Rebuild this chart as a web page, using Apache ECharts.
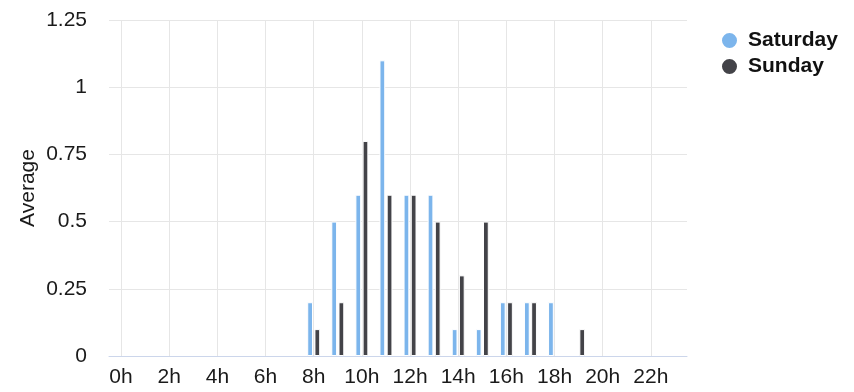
<!DOCTYPE html>
<html><head><meta charset="utf-8">
<script src="https://cdn.jsdelivr.net/npm/echarts@6/dist/echarts.min.js"></script>
<style>html,body{margin:0;padding:0;background:#fff}#c{width:854px;height:392px}</style>
</head><body><div id="c"></div>
<script>
const hours = ['0h','1h','2h','3h','4h','5h','6h','7h','8h','9h','10h','11h','12h','13h','14h','15h','16h','17h','18h','19h','20h','21h','22h','23h'];
const saturday = [0,0,0,0,0,0,0,0,0.2,0.5,0.6,1.1,0.6,0.6,0.1,0.1,0.2,0.2,0.2,0,0,0,0,0];
const sunday   = [0,0,0,0,0,0,0,0,0.1,0.2,0.8,0.6,0.6,0.5,0.3,0.5,0.2,0.2,0,0.1,0,0,0,0];
const yTicks = {min: 0, max: 1.25, interval: 0.25};

const FONT = "'Liberation Sans', Arial, sans-serif";
function prep(arr){ return arr.map(v => v === 0 ? {value: 0, itemStyle: {borderWidth: 0}} : v); }

const chart = echarts.init(document.getElementById('c'));
chart.setOption({
  animation: false,
  textStyle: {fontFamily: FONT},
  grid: {left: 109, right: 167, top: 20, bottom: 36, containLabel: false},
  legend: {
    orient: 'vertical', left: 715, top: 25,
    icon: 'circle', itemWidth: 17, itemHeight: 17, itemGap: 5,
    textStyle: {fontFamily: FONT, fontSize: 21, fontWeight: 'bold', color: '#111', padding: [0,0,0,5]},
    data: ['Saturday', 'Sunday']
  },
  xAxis: {
    type: 'category', data: hours, boundaryGap: true,
    axisLine: {lineStyle: {color: '#ccd6eb', width: 1}},
    axisTick: {alignWithLabel: true, interval: 1, length: 10, lineStyle: {color: '#ccd6eb'}},
    axisLabel: {interval: 1, fontSize: 21, color: '#1a1a1a', margin: 11, fontFamily: FONT},
    splitLine: {show: true, alignWithLabel: true, interval: 1, lineStyle: {color: '#e6e6e6', width: 1}}
  },
  yAxis: {
    type: 'value', min: yTicks.min, max: yTicks.max, interval: yTicks.interval,
    name: 'Average', nameLocation: 'middle', nameGap: 70, nameRotate: 90, nameMoveOverlap: false,
    nameTextStyle: {fontSize: 21, color: '#1a1a1a', fontFamily: FONT},
    axisLine: {show: false}, axisTick: {show: false},
    axisLabel: {fontSize: 21, color: '#1a1a1a', margin: 22, fontFamily: FONT},
    splitLine: {lineStyle: {color: '#e6e6e6', width: 1}}
  },
  series: [
    {name: 'Saturday', type: 'bar', data: prep(saturday), barWidth: 5.76, barGap: '25%',
     itemStyle: {color: '#7cb5ec', borderColor: '#fff', borderWidth: 1}},
    {name: 'Sunday', type: 'bar', data: prep(sunday), barWidth: 5.76, barGap: '25%',
     itemStyle: {color: '#434348', borderColor: '#fff', borderWidth: 1}}
  ]
});
</script></body></html>
